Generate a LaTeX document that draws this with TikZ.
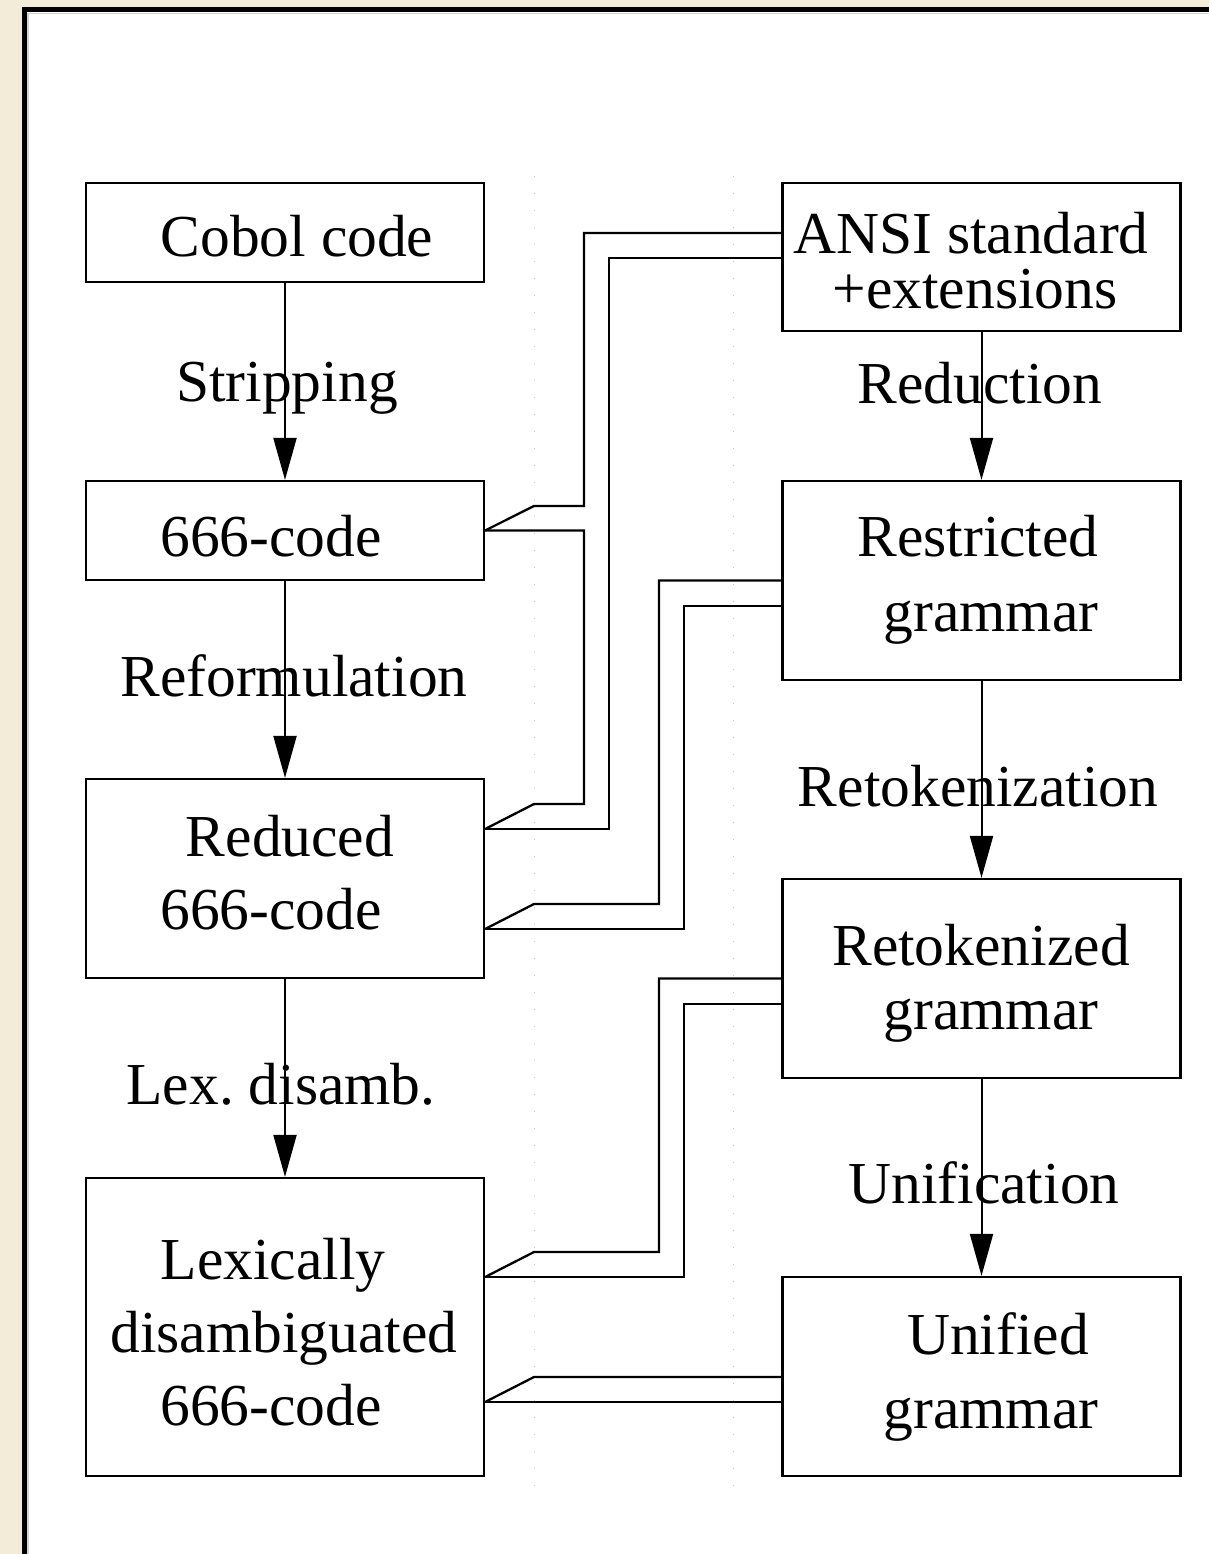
\documentclass[tikz,border=0pt]{standalone}
\usepackage{fontspec}
\setmainfont{Liberation Serif}
\usetikzlibrary{arrows.meta}
\definecolor{beige}{RGB}{242,236,216}
\frenchspacing
\begin{document}
\begin{tikzpicture}[x=1pt,y=-1pt,
  box/.style={draw,line width=2.2pt,minimum width=398pt,inner sep=0pt},
  txt/.style={anchor=base,inner sep=0pt,font=\fontsize{59.5}{70}\selectfont},
  conn/.style={line width=2.3pt,line join=miter},
  arr/.style={line width=2pt,-{Triangle[length=42pt,width=23pt]}},
  guide/.style={gray!45,line width=1pt,dash pattern=on 1pt off 16pt}]
\useasboundingbox (0,0) rectangle (1209,1554);
\fill[beige] (0,0) rectangle (1209,1554);
\fill[white] (24.5,9.8) rectangle (1209,1554);
\draw[gray!35,line width=1.5pt] (28,1554) -- (28,13.5) -- (1209,13.5);
\draw[line width=5pt] (24.5,1554) -- (24.5,9.8) -- (1209,9.8);
% faint guides
\draw[guide] (534,176) -- (534,1495);
\draw[guide] (733,176) -- (733,1495);
% boxes
\node[box,minimum height=99pt]  (cobol) at (285,232.5) {};
\node[box,minimum height=99pt]  (c666)  at (285,530.5) {};
\node[box,minimum height=199pt] (red)   at (285,878.5) {};
\node[box,minimum height=298pt] (lex)   at (285,1327) {};
\node[box,minimum height=148pt] (ansi)  at (981.5,257) {};
\node[box,minimum height=199pt] (rest)  at (981.5,580.5) {};
\node[box,minimum height=199pt] (retok) at (981.5,978.5) {};
\node[box,minimum height=199pt] (unif)  at (981.5,1376.5) {};
% box texts
\node[txt] (t1) at (297,256) {Cobol code};
\node[txt] (t2) at (271,556) {666-code};
\node[txt] (t3) at (290,856) {Reduced};
\node[txt] (t4) at (271,929) {666-code};
\node[txt] (t5) at (273,1279) {Lexically};
\node[txt] (t6) at (284,1352) {disambiguated};
\node[txt] (t7) at (271,1425) {666-code};
\node[txt] (t8) at (971,254) {ANSI standard};
\node[txt] (t9) at (975,308) {+extensions};
\node[txt] (t10) at (978,556) {Restricted};
\node[txt] (t11) at (991,631) {grammar};
\node[txt] (t12) at (981,965) {Retokenized};
\node[txt] (t13) at (991,1029) {grammar};
\node[txt] (t14) at (998,1354) {Unified};
\node[txt] (t15) at (991,1428) {grammar};
% arrows
\draw[arr] (cobol.south) -- (c666.north);
\draw[arr] (c666.south) -- (red.north);
\draw[arr] (red.south) -- (lex.north);
\draw[arr] (ansi.south) -- (rest.north);
\draw[arr] (rest.south) -- (retok.north);
\draw[arr] (retok.south) -- (unif.north);
% arrow labels
\node[txt] (l1) at (287,401) {Stripping};
\node[txt] (l2) at (294,696) {Reformulation};
\node[txt] (l3) at (281,1104) {Lex. disamb.};
\node[txt] (l4) at (980,403) {Reduction};
\node[txt] (l5) at (978,806) {Retokenization};
\node[txt] (l6) at (984,1203) {Unification};
% connectors
\draw[conn] ([yshift=24pt]ansi.west) -- (584,233) -- (584,506) -- (534,506) -- (c666.east);
\draw[conn] (c666.east) -- (584,530.5) -- (584,804) -- (534,804) -- ([yshift=49.5pt]red.east);
\draw[conn] ([yshift=-1pt]ansi.west) -- (609,258) -- (609,829) -- ([yshift=49.5pt]red.east);
\draw[conn] (rest.west) -- (659,580.5) -- (659,904) -- (534,904) -- ([yshift=-50.5pt]red.east);
\draw[conn] ([yshift=-25.5pt]rest.west) -- (684,606) -- (684,929) -- ([yshift=-50.5pt]red.east);
\draw[conn] (retok.west) -- (659,978.5) -- (659,1252) -- (534,1252) -- ([yshift=50pt]lex.east);
\draw[conn] ([yshift=-25.5pt]retok.west) -- (684,1004) -- (684,1277) -- ([yshift=50pt]lex.east);
\draw[conn] ([yshift=-0.5pt]unif.west) -- (534,1377) -- ([yshift=-75pt]lex.east);
\draw[conn] ([yshift=-25.5pt]unif.west) -- ([yshift=-75pt]lex.east);
\end{tikzpicture}
\end{document}
